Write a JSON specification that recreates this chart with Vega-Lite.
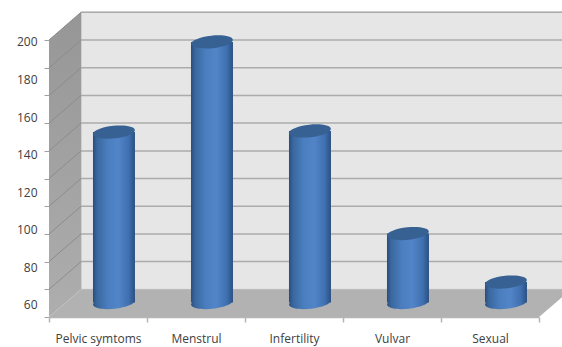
{
  "$schema": "https://vega.github.io/schema/vega-lite/v6.json",
  "autosize": "none",
  "width": 490,
  "height": 317,
  "padding": {"left": 49, "top": 0, "right": 23, "bottom": 30},
  "background": "white",
  "datasets": {
    "symptoms": [
      {"category": "Pelvic symtoms", "pos": 0.663, "value": 152, "base": 61.3},
      {"category": "Menstrul", "pos": 1.663, "value": 200, "base": 61.3},
      {"category": "Infertility", "pos": 2.663, "value": 152.6, "base": 61.3},
      {"category": "Vulvar", "pos": 3.663, "value": 98, "base": 61.3},
      {"category": "Sexual", "pos": 4.663, "value": 72.2, "base": 61.3}
    ],
    "levels": [
      {"level": 68.3, "next": 83.1},
      {"level": 83.1, "next": 97.8},
      {"level": 97.8, "next": 112.5},
      {"level": 112.5, "next": 127.3},
      {"level": 127.3, "next": 142},
      {"level": 142, "next": 156.8},
      {"level": 156.8, "next": 171.5},
      {"level": 171.5, "next": 186.2},
      {"level": 186.2, "next": 201},
      {"level": 201, "next": 215.8}
    ],
    "sideWall": [
      {"depth": 0, "low": 53.6, "high": 201},
      {"depth": 0.327, "low": 68.3, "high": 215.8}
    ],
    "floor": [
      {"level": 53.6, "start": 0, "end": 5},
      {"level": 68.3, "start": 0.327, "end": 5.327}
    ]
  },
  "layer": [
    {
      "data": {"values": [{}]},
      "mark": {"type": "rect", "fill": "#e6e6e6", "stroke": "#bdbdbd", "strokeWidth": 1},
      "encoding": {
        "x": {"datum": 0.327, "type": "quantitative", "scale": {"domain": [0, 5], "nice": false, "zero": false, "padding": 0},
          "axis": {"orient": "bottom", "values": [0, 1, 2, 3, 4, 5], "labels": false, "title": null, "grid": false, "domainColor": "#b5b5b5", "domainWidth": 1.5, "tickColor": "#b5b5b5", "tickSize": 5, "tickWidth": 1.5, "zindex": 1}},
        "x2": {"datum": 5.27},
        "y": {"datum": 68.3, "type": "quantitative", "scale": {"domain": [53.6, 222.3], "nice": false, "zero": false, "padding": 0},
          "axis": {"orient": "left", "values": [53.6, 68.3, 83.1, 97.8, 112.5, 127.3, 142, 156.8, 171.5, 186.2, 201], "labels": false, "title": null, "grid": false, "domain": false, "tickColor": "#a0a0a0", "tickSize": 5, "tickWidth": 1, "zindex": 1}},
        "y2": {"datum": 215.8}
      }
    },
    {
      "data": {"name": "sideWall"},
      "mark": {"type": "area", "orient": "vertical", "line": false,
        "fill": {"gradient": "linear", "x1": 0, "y1": 0, "x2": 0, "y2": 1, "stops": [{"offset": 0, "color": "#969696"}, {"offset": 1, "color": "#aeaeae"}]}},
      "encoding": {
        "x": {"field": "depth", "type": "quantitative", "scale": {"domain": [0, 5], "nice": false, "zero": false, "padding": 0},
          "axis": {"orient": "bottom", "values": [0.5, 1.5, 2.5, 3.5, 4.5], "labelExpr": "['Pelvic symtoms','Menstrul','Infertility','Vulvar','Sexual'][floor(datum.value)]", "title": null, "grid": false, "domain": false, "ticks": false, "labelPadding": 16, "labelFont": "Open Sans", "labelFontSize": 12, "labelColor": "#404040", "labelAngle": 0}},
        "y": {"field": "high", "type": "quantitative", "scale": {"domain": [53.6, 222.3], "nice": false, "zero": false, "padding": 0},
          "axis": {"orient": "left", "values": [60, 80, 100, 120, 140, 160, 180, 200], "title": null, "grid": false, "domain": false, "ticks": false, "labelPadding": 12, "labelFont": "Open Sans", "labelFontSize": 12, "labelColor": "#404040"}},
        "y2": {"field": "low"}
      }
    },
    {
      "data": {"name": "floor"},
      "mark": {"type": "area", "orient": "horizontal", "fill": "#b2b2b2"},
      "encoding": {
        "y": {"field": "level", "type": "quantitative", "axis": null, "scale": {"domain": [53.6, 222.3], "nice": false, "zero": false, "padding": 0}},
        "x": {"field": "start", "type": "quantitative", "axis": null, "scale": {"domain": [0, 5], "nice": false, "zero": false, "padding": 0}},
        "x2": {"field": "end"}
      }
    },
    {
      "data": {"name": "levels"},
      "mark": {"type": "rule", "stroke": "#8c8c8c", "strokeWidth": 1},
      "encoding": {
        "x": {"datum": 0, "type": "quantitative", "axis": null, "scale": {"domain": [0, 5], "nice": false, "zero": false, "padding": 0}},
        "x2": {"datum": 0.327},
        "y": {"field": "level", "type": "quantitative", "axis": null, "scale": {"domain": [53.6, 222.3], "nice": false, "zero": false, "padding": 0}},
        "y2": {"field": "next"}
      }
    },
    {
      "data": {"name": "levels"},
      "mark": {"type": "rule", "stroke": "#ababab", "strokeWidth": 1.5},
      "encoding": {
        "x": {"datum": 0.327, "type": "quantitative", "axis": null, "scale": {"domain": [0, 5], "nice": false, "zero": false, "padding": 0}},
        "x2": {"datum": 5.27},
        "y": {"field": "next", "type": "quantitative", "axis": null, "scale": {"domain": [53.6, 222.3], "nice": false, "zero": false, "padding": 0}}
      }
    },
    {
      "data": {"name": "symptoms"},
      "mark": {"type": "point", "filled": true, "opacity": 1, "size": 1764, "angle": -6,
        "shape": "M-1,0 A1,0.3 0 1,1 1,0 A1,0.3 0 1,1 -1,0 Z",
        "fill": {"gradient": "linear", "x1": 0, "y1": 0, "x2": 1, "y2": 0, "stops": [{"offset": 0, "color": "#2a4d7c"}, {"offset": 0.1, "color": "#3a689f"}, {"offset": 0.35, "color": "#4a7ebf"}, {"offset": 0.6, "color": "#5285c8"}, {"offset": 0.85, "color": "#3f70b0"}, {"offset": 1, "color": "#2b5082"}]}},
      "encoding": {
        "x": {"field": "pos", "type": "quantitative", "axis": null, "scale": {"domain": [0, 5], "nice": false, "zero": false, "padding": 0}},
        "y": {"field": "base", "type": "quantitative", "axis": null, "scale": {"domain": [53.6, 222.3], "nice": false, "zero": false, "padding": 0}}
      }
    },
    {
      "data": {"name": "symptoms"},
      "mark": {"type": "bar", "orient": "vertical", "size": 42,
        "fill": {"gradient": "linear", "x1": 0, "y1": 0, "x2": 1, "y2": 0, "stops": [{"offset": 0, "color": "#2a4d7c"}, {"offset": 0.1, "color": "#3a689f"}, {"offset": 0.35, "color": "#4a7ebf"}, {"offset": 0.6, "color": "#5285c8"}, {"offset": 0.85, "color": "#3f70b0"}, {"offset": 1, "color": "#2b5082"}]}},
      "encoding": {
        "x": {"field": "pos", "type": "quantitative", "axis": null, "scale": {"domain": [0, 5], "nice": false, "zero": false, "padding": 0}},
        "y": {"field": "value", "type": "quantitative", "axis": null, "scale": {"domain": [53.6, 222.3], "nice": false, "zero": false, "padding": 0}},
        "y2": {"field": "base"}
      }
    },
    {
      "data": {"name": "symptoms"},
      "mark": {"type": "point", "filled": true, "opacity": 1, "size": 1764, "angle": -6,
        "shape": "M-1,0 A1,0.3 0 1,1 1,0 A1,0.3 0 1,1 -1,0 Z",
        "fill": "#376193"},
      "encoding": {
        "x": {"field": "pos", "type": "quantitative", "axis": null, "scale": {"domain": [0, 5], "nice": false, "zero": false, "padding": 0}},
        "y": {"field": "value", "type": "quantitative", "axis": null, "scale": {"domain": [53.6, 222.3], "nice": false, "zero": false, "padding": 0}}
      }
    }
  ],
  "resolve": {"axis": {"x": "independent", "y": "independent"}},
  "config": {"view": {"stroke": null}}
}
